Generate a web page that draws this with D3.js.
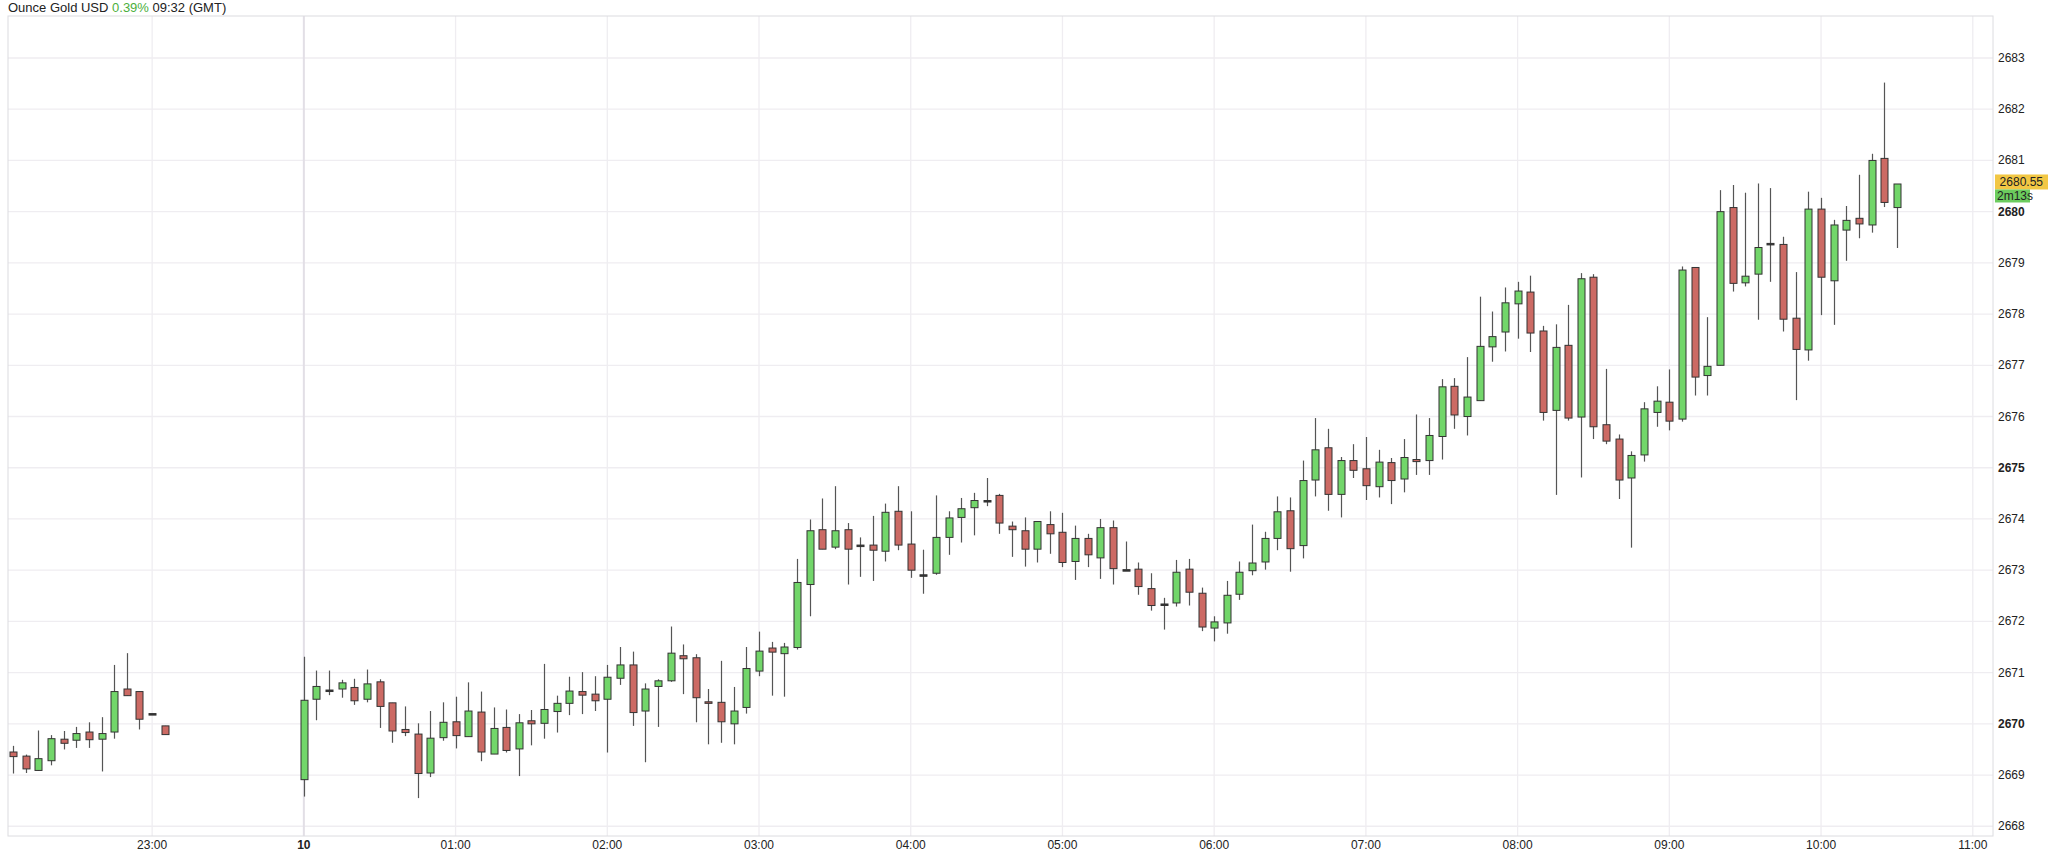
<!DOCTYPE html>
<meta charset="utf-8">
<script src="https://d3js.org/d3.v7.min.js"></script>
<style>
  body { margin: 0; background: #fff; font-family: "Liberation Sans", Arial, sans-serif; }
</style>
<div id="chart"></div>
<script>
// 5-minute candles, times in GMT (first 13 on the 9th, rest on the 10th)
var times = ("22:05 22:10 22:15 22:20 22:25 22:30 22:35 22:40 22:45 22:50 22:55 23:00 23:05 " +
  "00:00 00:05 00:10 00:15 00:20 00:25 00:30 00:35 00:40 00:45 00:50 00:55 " +
  "01:00 01:05 01:10 01:15 01:20 01:25 01:30 01:35 01:40 01:45 01:50 01:55 " +
  "02:00 02:05 02:10 02:15 02:20 02:25 02:30 02:35 02:40 02:45 02:50 02:55 " +
  "03:00 03:05 03:10 03:15 03:20 03:25 03:30 03:35 03:40 03:45 03:50 03:55 " +
  "04:00 04:05 04:10 04:15 04:20 04:25 04:30 04:35 04:40 04:45 04:50 04:55 " +
  "05:00 05:05 05:10 05:15 05:20 05:25 05:30 05:35 05:40 05:45 05:50 05:55 " +
  "06:00 06:05 06:10 06:15 06:20 06:25 06:30 06:35 06:40 06:45 06:50 06:55 " +
  "07:00 07:05 07:10 07:15 07:20 07:25 07:30 07:35 07:40 07:45 07:50 07:55 " +
  "08:00 08:05 08:10 08:15 08:20 08:25 08:30 08:35 08:40 08:45 08:50 08:55 " +
  "09:00 09:05 09:10 09:15 09:20 09:25 09:30 09:35 09:40 09:45 09:50 09:55 " +
  "10:00 10:05 10:10 10:15 10:20 10:25 10:30").split(" ");

var open = [2669.45,2669.37,2669.09,2669.28,2669.70,2669.68,2669.84,2669.70,2669.84,2670.68,2670.63,2670.20,2669.96,
  2668.91,2670.48,2670.66,2670.68,2670.71,2670.48,2670.82,2670.41,2669.89,2669.80,2669.04,2669.73,
  2670.04,2669.75,2670.23,2669.41,2669.93,2669.51,2670.06,2670.01,2670.24,2670.40,2670.63,2670.58,
  2670.48,2670.89,2671.15,2670.25,2670.73,2670.84,2671.33,2671.29,2670.43,2670.42,2670.00,2670.32,
  2671.03,2671.48,2671.37,2671.49,2672.72,2673.79,2673.45,2673.79,2673.49,2673.49,2673.37,2674.15,
  2673.51,2672.91,2672.94,2673.64,2674.03,2674.22,2674.36,2674.46,2673.86,2673.77,2673.41,2673.89,
  2673.74,2673.17,2673.62,2673.24,2673.83,2673.01,2673.02,2672.64,2672.34,2672.36,2673.02,2672.55,
  2671.87,2671.97,2672.53,2672.99,2673.16,2673.62,2674.16,2673.48,2674.76,2675.39,2674.48,2675.14,
  2674.98,2674.63,2675.10,2674.78,2675.16,2675.14,2675.61,2676.59,2676.00,2676.31,2677.36,2677.65,
  2678.20,2678.43,2677.67,2676.12,2677.39,2675.99,2678.72,2675.84,2675.56,2674.80,2675.25,2676.08,
  2676.28,2675.95,2678.91,2676.80,2677.00,2680.08,2678.61,2678.78,2679.38,2679.36,2677.92,2677.30,
  2680.05,2678.65,2679.64,2679.87,2679.74,2681.04,2680.08];
var high = [2669.57,2669.40,2669.87,2669.78,2669.86,2669.94,2670.03,2670.13,2671.15,2671.38,2670.63,2670.20,2669.96,
  2671.31,2671.04,2671.04,2670.86,2670.88,2671.06,2670.87,2670.41,2670.34,2670.01,2670.25,2670.42,
  2670.53,2670.81,2670.63,2670.32,2670.28,2670.19,2670.27,2671.17,2670.55,2670.92,2671.01,2670.93,
  2671.15,2671.50,2671.41,2670.79,2670.87,2671.90,2671.55,2671.36,2670.68,2671.23,2670.72,2671.50,
  2671.80,2671.60,2671.58,2673.22,2673.99,2674.40,2674.64,2673.92,2673.64,2674.06,2674.30,2674.64,
  2674.15,2673.40,2674.46,2674.15,2674.41,2674.51,2674.80,2674.49,2673.95,2674.03,2673.95,2674.15,
  2674.12,2673.87,2673.71,2674.00,2673.97,2673.56,2673.15,2672.94,2672.46,2673.20,2673.22,2672.66,
  2672.10,2672.79,2673.17,2673.89,2673.75,2674.44,2674.42,2675.14,2675.97,2675.76,2675.21,2675.46,
  2675.60,2675.35,2675.19,2675.56,2676.04,2675.97,2676.73,2676.75,2677.16,2678.34,2678.05,2678.52,
  2678.63,2678.75,2677.77,2677.80,2678.18,2678.80,2678.78,2676.93,2675.65,2675.32,2676.28,2676.59,
  2676.92,2678.93,2678.91,2677.94,2680.42,2680.52,2680.37,2680.55,2680.46,2679.51,2678.82,2680.39,
  2680.27,2679.84,2680.11,2680.72,2681.13,2682.52,2680.54];
var low = [2669.03,2669.04,2669.08,2669.19,2669.50,2669.53,2669.53,2669.07,2669.71,2670.55,2669.89,2670.20,2669.79,
  2668.58,2670.07,2670.56,2670.51,2670.37,2670.42,2669.92,2669.63,2669.76,2668.55,2668.96,2669.67,
  2669.52,2669.75,2669.27,2669.41,2669.44,2668.98,2669.58,2669.71,2669.83,2670.17,2670.19,2670.25,
  2669.44,2670.76,2669.96,2669.25,2669.94,2670.82,2670.58,2670.03,2669.60,2669.63,2669.60,2670.20,
  2670.93,2670.55,2670.53,2671.45,2672.10,2673.41,2673.41,2672.72,2672.87,2672.79,2673.17,2673.39,
  2672.85,2672.54,2672.91,2673.30,2673.54,2673.68,2674.25,2673.71,2673.26,2673.07,2673.15,2673.32,
  2673.06,2672.81,2673.06,2672.83,2672.72,2673.01,2672.52,2672.21,2671.84,2672.29,2672.31,2671.81,
  2671.61,2671.76,2672.42,2672.90,2673.01,2673.39,2672.97,2673.23,2674.44,2674.16,2674.03,2674.80,
  2674.37,2674.42,2674.29,2674.52,2674.86,2674.86,2675.16,2675.76,2675.63,2676.31,2677.07,2677.27,
  2677.52,2677.26,2675.92,2674.47,2675.92,2674.81,2675.56,2675.46,2674.39,2673.44,2675.12,2675.80,
  2675.73,2675.90,2676.41,2676.41,2677.00,2678.44,2678.54,2677.89,2678.63,2677.66,2676.32,2677.09,
  2677.98,2677.79,2679.04,2679.48,2679.59,2680.09,2679.29];
var close = [2669.36,2669.12,2669.32,2669.71,2669.62,2669.81,2669.69,2669.81,2670.63,2670.55,2670.09,2670.20,2669.79,
  2670.46,2670.73,2670.66,2670.80,2670.45,2670.78,2670.34,2669.86,2669.83,2669.03,2669.72,2670.03,
  2669.77,2670.25,2669.45,2669.91,2669.48,2670.02,2670.00,2670.28,2670.40,2670.64,2670.56,2670.45,
  2670.91,2671.15,2670.22,2670.68,2670.84,2671.38,2671.27,2670.51,2670.40,2670.04,2670.25,2671.08,
  2671.42,2671.40,2671.50,2672.76,2673.77,2673.41,2673.77,2673.41,2673.49,2673.39,2674.13,2673.49,
  2673.00,2672.91,2673.64,2674.02,2674.20,2674.36,2674.36,2673.92,2673.79,2673.41,2673.95,2673.71,
  2673.15,2673.62,2673.30,2673.83,2673.03,2673.01,2672.68,2672.31,2672.34,2672.96,2672.57,2671.89,
  2671.99,2672.51,2672.96,2673.14,2673.62,2674.14,2673.42,2674.75,2675.35,2674.48,2675.14,2674.95,
  2674.65,2675.11,2674.75,2675.20,2675.12,2675.63,2676.58,2676.03,2676.38,2677.37,2677.56,2678.22,
  2678.45,2677.63,2676.08,2677.35,2675.97,2678.69,2675.80,2675.52,2674.76,2675.24,2676.15,2676.30,
  2675.91,2678.86,2676.77,2676.98,2680.00,2678.60,2678.74,2679.30,2679.38,2677.90,2677.31,2680.05,
  2678.72,2679.74,2679.83,2679.76,2681.00,2680.18,2680.54];
var yTicks = [2668,2669,2670,2671,2672,2673,2674,2675,2676,2677,2678,2679,2680,2681,2682,2683];
var lastPrice = 2680.55, countdown = "2m13s";

var W = 2048, H = 853;
var plot = {left: 8, right: 1993, top: 16, bottom: 836};

function toDate(t, i) {
  var p = t.split(":");
  return new Date(Date.UTC(2024, 11, i < 13 ? 9 : 10, +p[0], +p[1]));
}
var data = times.map(function(t, i) {
  return {date: toDate(t, i), o: open[i], h: high[i], l: low[i], c: close[i]};
});

var x = d3.scaleUtc()
  .domain([new Date(Date.UTC(2024, 11, 9, 22, 3)), new Date(Date.UTC(2024, 11, 10, 11, 8))])
  .range([plot.left, plot.right]);
var y = d3.scaleLinear().domain([2667.81, 2683.82]).range([plot.bottom, plot.top]);

var svg = d3.select("#chart").append("svg").attr("width", W).attr("height", H);

// title
var title = svg.append("text").attr("x", 8).attr("y", 12).attr("font-size", 13).attr("fill", "#222");
title.append("tspan").text("Ounce Gold USD ");
title.append("tspan").attr("fill", "#4caf3c").text("0.39%");
title.append("tspan").text(" 09:32 (GMT)");

// grid
var hours = x.ticks(d3.utcHour.every(1));
svg.append("g").selectAll("line").data(yTicks).join("line")
  .attr("x1", plot.left).attr("x2", plot.right)
  .attr("y1", function(d) { return y(d); }).attr("y2", function(d) { return y(d); })
  .attr("stroke", "#efedf1").attr("stroke-width", 1.3);
svg.append("g").selectAll("line").data(hours).join("line")
  .attr("x1", function(d) { return x(d); }).attr("x2", function(d) { return x(d); })
  .attr("y1", plot.top).attr("y2", plot.bottom)
  .attr("stroke", function(d) { return d.getUTCHours() === 0 ? "#e2dfe6" : "#efedf1"; })
  .attr("stroke-width", function(d) { return d.getUTCHours() === 0 ? 2 : 1.3; });

svg.append("rect").attr("x", plot.left).attr("y", plot.top)
  .attr("width", plot.right - plot.left).attr("height", plot.bottom - plot.top)
  .attr("fill", "none").attr("stroke", "#dcdce0");

// x axis labels
svg.append("g").selectAll("text").data(hours).join("text")
  .attr("x", function(d) { return x(d); }).attr("y", 849)
  .attr("text-anchor", "middle").attr("font-size", 12).attr("fill", "#222")
  .attr("font-weight", function(d) { return d.getUTCHours() === 0 ? "bold" : "normal"; })
  .text(function(d) { return d.getUTCHours() === 0 ? "10" : d3.utcFormat("%H:%M")(d); });

// y axis labels
svg.append("g").selectAll("text").data(yTicks).join("text")
  .attr("x", 1998).attr("y", function(d) { return y(d) + 4; })
  .attr("font-size", 12).attr("fill", "#222")
  .attr("font-weight", function(d) { return d % 5 === 0 ? "bold" : "normal"; })
  .text(function(d) { return d; });

// candles
var bw = 7;
var g = svg.append("g");
g.selectAll("line").data(data).join("line")
  .attr("x1", function(d) { return Math.round(x(d.date)) + 0.5; })
  .attr("x2", function(d) { return Math.round(x(d.date)) + 0.5; })
  .attr("y1", function(d) { return y(d.h); }).attr("y2", function(d) { return y(d.l); })
  .attr("stroke", "#555").attr("stroke-width", 1.2);
g.selectAll("rect").data(data).join("rect")
  .attr("x", function(d) { return Math.round(x(d.date)) + 0.5 - bw / 2; })
  .attr("y", function(d) { return y(Math.max(d.o, d.c)); })
  .attr("width", bw)
  .attr("height", function(d) { return Math.max(1.5, y(Math.min(d.o, d.c)) - y(Math.max(d.o, d.c))); })
  .attr("fill", function(d) { return d.c > d.o ? "#72d66a" : d.c < d.o ? "#cc6a64" : "#333"; })
  .attr("stroke", "#333").attr("stroke-width", 1);

// last price + countdown labels
var ly = y(lastPrice);
svg.append("rect").attr("x", 1995).attr("y", ly - 9).attr("width", 53).attr("height", 15).attr("fill", "#f2c744");
svg.append("text").attr("x", 2043).attr("y", ly + 3).attr("text-anchor", "end")
  .attr("font-size", 12).attr("fill", "#222").text(lastPrice.toFixed(2));
svg.append("rect").attr("x", 1995).attr("y", ly + 6).attr("width", 35).attr("height", 13).attr("fill", "#6ccc5e");
svg.append("text").attr("x", 1997).attr("y", ly + 17)
  .attr("font-size", 12).attr("fill", "#222").text(countdown);
</script>
